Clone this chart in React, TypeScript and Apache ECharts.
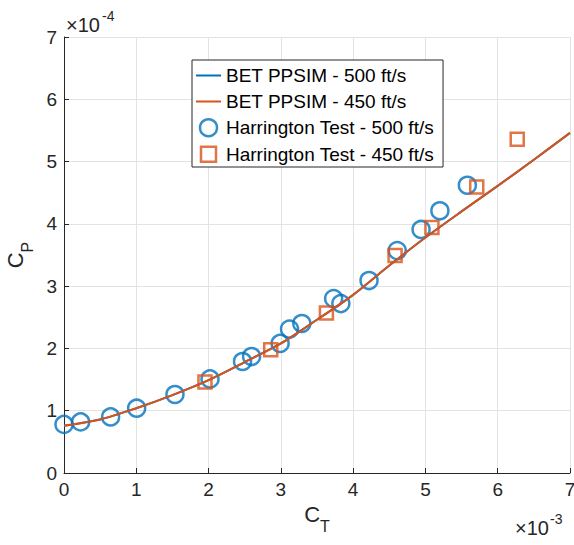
import React, { useEffect, useRef } from "react";
import * as echarts from "echarts";

// BET PPSIM curves (C_T in 1e-3, C_P in 1e-4)
const betCt = [0, 0.5, 1, 1.5, 2, 2.5, 3, 3.5, 4, 4.5, 5, 5.5, 6, 6.5, 7];
const betCp500 = [0.76, 0.86, 1.04, 1.25, 1.49, 1.78, 2.08, 2.46, 2.86, 3.33, 3.78, 4.2, 4.61, 5.03, 5.46];
const betCp450 = [0.76, 0.86, 1.04, 1.25, 1.49, 1.78, 2.08, 2.46, 2.86, 3.33, 3.78, 4.2, 4.61, 5.03, 5.46];

// Harrington test data
const harCt500 = [0, 0.23, 0.645, 1.005, 1.535, 2.02, 2.47, 2.595, 2.99, 3.12, 3.29, 3.73, 3.83, 4.22, 4.61, 4.94, 5.2, 5.58];
const harCp500 = [0.78, 0.82, 0.9, 1.04, 1.26, 1.51, 1.79, 1.87, 2.08, 2.31, 2.4, 2.8, 2.72, 3.09, 3.57, 3.91, 4.21, 4.62];
const harCt450 = [1.95, 2.86, 3.63, 4.58, 5.09, 5.71, 6.27];
const harCp450 = [1.46, 1.98, 2.57, 3.49, 3.94, 4.59, 5.36];

const xTicks = [0, 1, 2, 3, 4, 5, 6, 7];
const yTicks = [0, 1, 2, 3, 4, 5, 6, 7];

const FONT = "Liberation Sans, Arial, Helvetica, sans-serif";
const AX = "#262626";
const BLUE = "#0072BD";
const ORANGE = "#D95319";

const LINE_ICON = "path://M0,0H25V2H0Z";
const SQUARE_ICON = "path://M-1,-1h0.01M16,16h0.01M0,0H15V15H0Z";

const zip = (a: number[], b: number[]) => a.map((v, i) => [v, b[i]]);

export default function App() {
  const ref = useRef<HTMLDivElement>(null);
  useEffect(() => {
    if (!ref.current) return;
    const chart = echarts.init(ref.current, undefined, { renderer: "svg" });
    const axisCommon = {
      type: "value" as const,
      interval: 1,
      axisLine: { show: true, onZero: false, lineStyle: { color: AX, width: 1 } },
      axisTick: { show: true, inside: true, length: 5, lineStyle: { color: AX } },
      splitLine: { show: true, lineStyle: { color: "#e3e3e3", width: 1 } },
      nameLocation: "middle" as const,
    };
    const nameRich = {
      c: { fontSize: 22, fontFamily: FONT, color: AX, verticalAlign: "bottom", lineHeight: 22, padding: [0, 0, 9, 0] },
      s: { fontSize: 16, fontFamily: FONT, color: AX, verticalAlign: "bottom", lineHeight: 16 },
    };
    chart.setOption({
      animation: false,
      backgroundColor: "#fff",
      grid: { left: 64, right: 4, top: 37, bottom: 72, containLabel: false, outerBoundsMode: "none" },
      xAxis: {
        ...axisCommon,
        min: xTicks[0],
        max: xTicks[xTicks.length - 1],
        axisLabel: { fontSize: 19, color: AX, fontFamily: FONT, margin: 7 },
        name: "{c|C}{s|T}",
        nameGap: 38,
        nameTextStyle: { fontFamily: FONT, color: AX, rich: nameRich },
      },
      yAxis: {
        ...axisCommon,
        min: yTicks[0],
        max: yTicks[yTicks.length - 1],
        axisLabel: { fontSize: 19, color: AX, fontFamily: FONT, margin: 7 },
        name: "{c|C}{s|P}",
        nameGap: 26,
        nameTextStyle: { fontFamily: FONT, color: AX, rich: nameRich },
      },
      legend: {
        left: 192,
        top: 60,
        orient: "vertical",
        itemWidth: 25,
        itemHeight: 17,
        itemGap: 7,
        padding: [6, 9, 3, 4],
        borderColor: AX,
        borderWidth: 1,
        borderRadius: 0,
        backgroundColor: "#fff",
        textStyle: { fontSize: 19, color: "#000", fontFamily: FONT },
        data: [
          { name: "BET PPSIM - 500 ft/s", icon: LINE_ICON, itemStyle: { color: BLUE, borderWidth: 0 } },
          { name: "BET PPSIM - 450 ft/s", icon: LINE_ICON, itemStyle: { color: ORANGE, borderWidth: 0 } },
          {
            name: "Harrington Test - 500 ft/s",
            icon: "circle",
            itemStyle: { color: "rgba(0,0,0,0)", borderColor: BLUE, borderWidth: 2.5 },
          },
          {
            name: "Harrington Test - 450 ft/s",
            icon: SQUARE_ICON,
            itemStyle: { color: "rgba(0,0,0,0)", borderColor: ORANGE, borderWidth: 2.5 },
          },
        ],
      },
      graphic: [
        { type: "text", left: 66, top: 15, style: { text: "×10", fontSize: 20, fontFamily: FONT, fill: AX } },
        { type: "text", left: 102, top: 9, style: { text: "-4", fontSize: 14, fontFamily: FONT, fill: AX } },
        { type: "text", left: 515, top: 518, style: { text: "×10", fontSize: 20, fontFamily: FONT, fill: AX } },
        { type: "text", left: 550, top: 512, style: { text: "-3", fontSize: 14, fontFamily: FONT, fill: AX } },
      ],
      series: [
        {
          name: "BET PPSIM - 500 ft/s",
          type: "line",
          data: zip(betCt, betCp500),
          symbol: "none",
          smooth: 0.3,
          lineStyle: { color: BLUE, width: 2 },
          itemStyle: { color: BLUE },
        },
        {
          name: "BET PPSIM - 450 ft/s",
          type: "line",
          data: zip(betCt, betCp450),
          symbol: "none",
          smooth: 0.3,
          lineStyle: { color: ORANGE, width: 2 },
          itemStyle: { color: ORANGE },
        },
        {
          name: "Harrington Test - 500 ft/s",
          type: "scatter",
          data: zip(harCt500, harCp500),
          symbol: "circle",
          symbolSize: 17,
          itemStyle: { color: "rgba(0,0,0,0)", borderColor: BLUE, borderWidth: 2.5 },
        },
        {
          name: "Harrington Test - 450 ft/s",
          type: "scatter",
          data: zip(harCt450, harCp450),
          symbol: "rect",
          symbolSize: 13,
          itemStyle: { color: "rgba(0,0,0,0)", borderColor: ORANGE, borderWidth: 2.5 },
        },
      ],
    });
    return () => chart.dispose();
  }, []);
  return (
    <div
      ref={ref}
      style={{ position: "absolute", left: 0, top: 0, width: 574, height: 545, background: "#fff" }}
    />
  );
}
